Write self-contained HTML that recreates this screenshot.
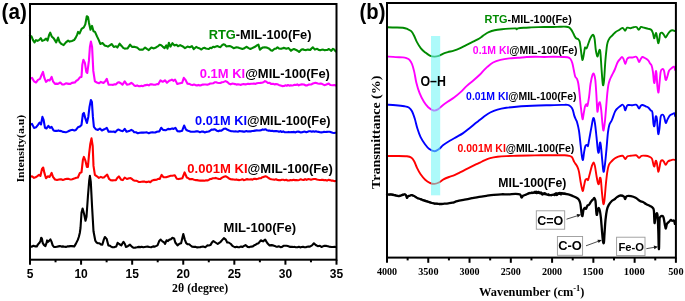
<!DOCTYPE html><html><head><meta charset="utf-8"><style>html,body{margin:0;padding:0;background:#fff;overflow:hidden}svg{display:block;will-change:transform}</style></head><body>
<svg width="685" height="301" viewBox="0 0 685 301">
<rect width="685" height="301" fill="#fff"/>
<polyline points="30.0,35.6 31.5,36.4 33.0,40.1 34.5,42.4 36.0,40.1 37.5,40.9 39.0,40.1 40.8,38.2 42.3,40.9 44.2,40.1 46.1,38.6 47.6,40.6 49.1,34.9 50.2,32.7 51.7,36.4 53.9,38.6 56.2,42.4 58.1,37.6 59.6,42.1 61.4,43.9 63.6,45.1 65.9,42.4 68.1,40.6 69.6,41.6 71.9,40.9 74.1,40.1 75.6,37.9 77.1,34.9 78.1,31.9 79.6,33.4 81.6,28.9 83.8,27.4 85.3,24.4 86.8,16.2 88.0,17.0 89.0,22.9 90.5,29.7 92.0,25.9 93.5,31.2 95.0,31.9 97.0,36.4 98.8,40.1 100.3,43.9 102.5,43.1 104.7,45.4 106.3,45.9 107.9,46.6 109.8,45.4 111.6,44.0 113.8,46.9 116.0,46.2 117.4,47.6 119.6,43.7 121.8,46.2 123.2,47.9 124.7,48.6 126.2,48.5 127.6,48.4 130.1,44.7 132.0,46.9 133.4,46.9 134.9,46.9 137.1,47.6 138.6,48.8 140.0,49.8 141.3,49.5 142.7,49.8 145.1,47.6 146.9,48.9 148.8,50.1 151.4,47.6 153.9,48.4 155.4,47.8 156.8,46.9 158.2,46.1 159.7,44.7 161.2,45.2 162.7,46.6 164.6,48.1 166.3,45.4 167.5,48.6 168.9,42.8 170.4,46.6 172.4,43.2 174.3,45.4 176.5,44.7 178.0,46.2 180.2,45.1 182.4,46.2 185.0,48.1 187.5,46.6 189.7,47.2 191.9,46.2 193.8,49.1 196.2,46.9 198.4,48.1 199.9,48.6 201.4,49.5 202.9,48.2 204.4,47.8 205.9,48.5 207.3,48.8 208.8,49.0 210.2,47.8 211.7,48.1 213.1,46.8 214.6,47.1 216.0,46.5 217.5,46.1 218.9,46.8 220.4,47.2 221.9,45.4 223.4,44.3 224.9,44.8 226.3,46.4 227.8,46.3 229.2,46.1 230.7,46.3 232.1,47.2 233.6,48.2 235.1,47.7 236.5,47.2 238.0,47.5 239.4,48.0 240.9,48.4 242.3,49.0 243.8,48.6 245.2,47.6 246.7,46.8 248.6,48.1 250.4,49.0 252.2,48.1 254.0,47.2 255.5,46.5 256.9,45.4 258.4,44.6 259.9,49.7 261.4,48.4 262.8,47.5 264.7,47.3 267.0,47.6 269.3,48.8 270.8,50.3 272.3,50.8 274.6,48.8 276.1,48.6 277.5,47.3 278.9,48.4 280.4,48.8 281.9,48.6 283.4,47.9 284.9,48.1 286.3,48.8 288.6,48.1 291.0,50.8 292.4,49.6 293.9,49.0 296.2,50.0 297.6,50.7 299.1,51.9 301.5,49.6 302.9,49.3 304.4,50.0 306.1,50.1 307.9,49.6 310.2,50.0 311.5,48.5 312.8,47.3 314.9,49.6 317.2,48.8 318.7,49.9 320.2,50.2 321.6,49.8 323.1,49.6 324.6,50.3 326.0,50.0 327.4,49.9 328.9,49.0 331.3,50.8 333.0,48.8 334.3,49.6 335.6,51.4" fill="none" stroke="#008a00" stroke-width="2.1" stroke-linejoin="round" stroke-linecap="round"/>
<polyline points="30.0,78.5 32.0,77.9 34.0,81.3 36.0,82.5 38.0,79.9 40.0,78.9 41.6,74.9 43.0,71.9 44.4,77.9 46.0,81.9 48.0,79.9 49.6,80.5 51.6,76.9 53.0,81.3 55.0,83.9 56.5,83.6 58.0,83.9 60.3,82.5 62.3,84.5 64.1,84.4 65.9,83.3 67.4,83.6 68.9,83.9 70.4,83.9 71.9,82.9 73.4,82.6 74.9,82.5 76.4,80.7 77.9,79.9 79.9,77.3 81.5,76.9 82.3,64.9 83.4,59.7 84.9,62.9 86.3,71.9 87.3,72.9 88.9,60.9 89.9,47.0 90.9,41.6 92.1,47.0 93.3,70.9 94.9,81.3 96.9,82.5 98.9,83.3 100.9,81.9 103.5,82.9 105.5,80.9 106.8,78.9 108.6,84.7 110.1,84.8 111.6,84.7 113.1,84.9 114.5,84.2 116.0,84.4 117.5,82.8 118.9,82.2 120.8,83.2 122.5,84.7 124.7,81.4 126.9,84.7 129.1,84.3 131.3,82.8 132.8,83.9 134.2,85.4 135.6,85.9 137.1,85.4 138.6,86.1 140.0,86.2 141.5,85.8 143.0,86.2 144.4,85.4 145.9,85.1 147.4,84.8 148.8,85.4 150.2,84.4 151.7,84.3 153.6,84.8 155.4,84.7 156.9,84.1 158.3,84.3 160.5,80.3 162.7,81.8 164.9,80.3 167.0,82.8 169.2,80.8 170.6,80.3 171.9,79.6 173.6,80.8 175.1,79.6 177.3,84.0 178.8,83.5 180.2,83.2 182.1,82.8 183.8,77.8 185.3,79.6 187.5,83.7 189.3,83.9 191.1,84.7 192.6,85.1 194.0,84.6 195.5,85.1 197.0,85.4 198.4,84.9 199.9,85.4 201.4,85.1 202.9,84.6 204.3,84.5 205.8,84.5 207.3,84.8 208.8,84.3 210.2,83.5 211.7,83.5 213.1,83.3 214.6,82.3 216.1,82.2 217.5,82.7 219.0,83.0 220.4,83.0 221.9,82.3 223.7,81.9 225.5,81.1 227.3,82.0 229.2,83.8 230.6,84.4 232.1,83.6 233.6,83.8 235.0,84.1 236.5,84.6 237.9,84.3 239.4,84.5 240.9,84.9 242.3,84.2 243.8,84.0 245.2,84.4 246.7,84.1 248.2,83.7 249.6,84.1 251.1,83.7 252.6,83.8 254.0,83.5 255.5,83.9 256.9,83.2 258.4,83.0 260.2,82.9 262.0,82.6 263.5,82.3 265.0,81.1 266.4,81.7 267.9,83.0 269.6,82.9 271.3,84.0 273.0,83.8 274.4,84.4 275.9,84.1 277.4,84.3 278.8,84.9 280.5,85.5 282.3,86.1 284.0,86.0 285.3,85.3 286.7,85.8 288.0,85.0 289.3,85.6 290.7,85.4 292.0,85.5 293.3,85.2 294.7,84.7 296.0,85.0 297.3,84.4 298.7,85.4 300.0,84.8 301.9,84.4 303.9,84.5 305.9,85.5 307.2,85.4 308.6,84.6 309.9,84.5 311.4,84.4 312.9,83.5 315.4,82.8 317.9,83.5 319.2,83.7 320.6,83.5 321.9,83.8 324.4,85.2 326.4,84.5 328.7,83.5 330.3,85.0 332.8,85.2 334.3,85.0 335.8,85.5" fill="none" stroke="#ff00ff" stroke-width="2.1" stroke-linejoin="round" stroke-linecap="round"/>
<polyline points="30.0,124.9 32.0,123.9 34.0,127.9 36.0,127.3 38.0,124.9 39.6,122.5 41.0,124.5 42.4,116.9 43.6,119.9 45.0,127.9 46.4,128.5 48.4,125.9 50.0,127.9 51.6,126.9 53.6,130.5 55.2,130.9 56.9,130.9 58.4,130.4 59.9,130.9 61.4,131.1 62.9,131.9 64.2,132.0 65.6,132.3 66.9,131.9 68.4,131.3 69.9,130.5 71.4,130.0 72.9,129.9 74.4,130.4 75.9,129.9 77.9,127.3 79.9,126.5 81.5,124.9 82.9,113.9 83.9,112.9 85.5,118.9 86.9,122.9 88.3,116.9 89.5,106.9 90.9,100.0 91.9,102.0 92.9,116.9 93.9,126.9 95.9,129.3 97.9,129.9 99.9,128.5 101.9,130.5 104.3,129.3 106.8,127.9 108.6,131.8 110.4,131.5 112.3,131.8 113.8,131.5 115.2,132.2 116.7,130.6 118.1,129.6 119.6,130.1 121.1,130.8 122.8,131.1 124.7,128.9 126.6,131.8 129.1,131.1 131.3,129.9 132.8,130.6 134.2,132.2 136.0,132.3 137.8,133.2 139.7,132.7 141.5,132.5 143.3,132.6 145.1,132.5 146.9,132.4 148.8,133.2 150.6,132.5 152.4,132.2 153.9,132.5 155.3,132.5 156.8,131.8 159.3,131.4 161.2,127.8 163.1,129.9 165.6,130.3 168.1,128.9 170.0,129.3 172.2,128.4 173.6,128.9 175.4,127.8 177.3,131.1 179.7,131.4 182.1,130.8 184.1,125.5 186.0,129.6 187.4,130.5 188.9,131.1 190.8,131.7 192.6,131.8 194.4,131.7 196.2,131.4 198.1,131.4 199.9,132.2 201.4,131.6 203.0,131.5 204.6,132.4 206.1,131.9 207.5,131.7 208.8,131.5 210.2,130.6 211.6,129.6 212.9,129.8 214.3,129.2 215.7,129.8 217.0,130.8 218.4,131.2 219.8,130.5 221.1,130.8 222.5,129.8 224.1,128.7 225.6,128.6 227.1,129.5 228.6,130.2 230.0,130.8 231.3,131.3 232.7,131.2 234.1,131.5 235.4,131.4 236.8,131.5 238.2,131.7 239.5,131.0 240.9,131.2 242.3,131.4 243.6,131.6 245.0,131.6 246.4,131.1 247.7,131.5 249.1,131.2 250.6,131.4 252.1,131.0 253.7,130.9 255.2,130.6 256.7,130.4 258.2,130.5 259.8,130.4 261.3,130.2 262.7,129.4 264.0,129.7 265.4,129.2 266.8,130.2 268.1,130.6 269.5,130.6 270.9,131.0 272.2,130.7 273.6,131.2 275.0,131.1 276.3,131.0 277.7,131.2 279.1,131.8 280.4,131.1 281.8,132.0 283.2,131.4 284.5,132.2 285.9,132.3 287.3,132.2 288.6,131.9 290.0,132.3 291.4,132.0 292.7,132.1 294.1,131.9 295.5,132.4 296.8,131.8 298.1,131.6 299.5,131.9 300.9,132.4 302.2,132.3 303.6,131.8 304.9,131.6 306.3,132.2 307.7,131.7 309.0,131.3 310.4,131.2 311.8,131.7 313.1,131.2 314.5,131.7 315.9,131.3 317.2,131.7 318.6,131.9 320.0,132.2 321.3,132.4 322.7,132.3 324.1,131.8 325.4,132.0 326.8,131.9 328.2,131.8 329.7,131.8 331.1,132.3 332.6,132.8 334.1,133.0 335.5,132.7" fill="none" stroke="#0000ff" stroke-width="2.1" stroke-linejoin="round" stroke-linecap="round"/>
<polyline points="30.0,176.9 32.0,176.3 34.0,177.9 35.5,177.3 37.0,176.3 39.0,174.9 40.4,175.9 42.0,168.9 43.2,167.5 44.4,172.9 46.0,178.3 48.0,176.3 49.6,176.9 51.6,172.9 53.0,176.9 55.0,179.5 57.0,180.0 58.9,179.5 60.2,179.4 61.6,179.4 62.9,179.9 64.2,179.5 65.6,179.0 66.9,178.9 68.2,178.8 69.6,179.2 70.9,179.5 72.2,179.2 73.6,178.7 74.9,178.3 76.4,177.7 77.9,177.5 79.9,172.9 81.5,172.3 82.9,159.9 83.9,156.9 85.5,160.9 86.9,166.9 87.9,166.9 89.1,153.9 90.3,144.0 91.5,138.4 92.7,146.0 93.5,165.9 94.9,174.9 96.9,176.3 98.9,177.9 100.9,176.9 102.4,177.6 103.9,177.5 105.5,176.0 107.2,174.6 109.1,179.0 110.7,180.2 112.3,180.4 114.1,180.2 115.9,180.1 117.4,177.8 118.9,176.4 121.1,179.7 122.8,180.1 124.7,177.5 126.9,179.0 129.1,178.2 130.6,178.1 132.0,179.0 133.4,180.3 134.9,180.7 136.8,180.8 138.6,181.9 140.1,182.0 141.5,181.8 143.0,181.6 144.4,181.5 145.9,182.1 147.3,181.9 148.8,181.5 150.3,182.2 151.8,180.7 153.2,180.1 155.0,179.9 156.8,179.7 158.2,178.8 159.7,179.0 161.6,174.9 163.4,177.2 166.0,177.2 168.5,176.4 170.7,175.8 172.4,175.8 174.8,175.3 176.8,178.7 178.5,179.1 180.2,178.7 182.4,178.2 184.6,172.4 186.8,177.5 188.2,178.1 189.7,179.3 191.2,179.0 192.6,179.1 194.1,179.7 195.5,180.1 197.0,180.1 198.4,180.4 200.2,180.6 202.0,180.5 203.4,180.6 204.7,180.7 206.1,180.3 207.5,180.5 208.8,179.8 210.2,179.0 211.6,178.9 212.9,178.3 214.3,178.3 215.8,177.9 217.4,178.6 218.9,179.0 220.4,178.9 222.1,177.6 223.9,176.8 225.6,176.2 227.3,177.1 229.0,178.5 230.7,179.3 232.2,179.4 233.6,179.5 235.1,179.8 236.5,179.4 238.0,179.9 239.4,180.1 240.9,179.7 242.4,179.2 243.8,180.1 245.3,179.8 246.7,179.1 248.2,179.4 249.6,179.5 251.1,179.3 252.5,179.6 253.8,178.8 255.2,178.9 256.6,179.1 257.9,178.8 259.3,178.3 260.8,178.3 262.4,177.2 263.9,176.9 265.4,176.2 266.9,176.7 268.5,178.0 270.1,178.9 271.6,179.3 273.1,179.5 274.5,179.7 276.0,179.2 277.4,180.0 278.9,180.1 280.3,180.2 281.8,179.7 283.3,179.8 284.7,180.2 286.2,179.8 287.6,180.5 289.1,180.5 290.5,180.0 292.0,180.3 293.5,179.8 294.9,180.1 296.4,180.1 297.8,180.3 299.3,179.9 300.7,179.3 302.2,179.7 303.7,180.0 305.1,179.1 306.6,179.9 308.1,179.1 309.6,179.2 311.0,179.7 312.5,179.3 314.0,179.0 315.4,179.0 316.9,179.5 318.3,179.8 319.8,180.0 321.2,179.9 322.7,179.7 324.1,180.3 325.5,180.0 327.0,180.6 328.4,179.8 329.8,180.1 331.2,180.6 332.7,180.5 334.1,181.1 335.5,181.0" fill="none" stroke="#ff0000" stroke-width="2.1" stroke-linejoin="round" stroke-linecap="round"/>
<polyline points="30.0,246.4 31.5,246.7 33.5,245.7 35.0,246.4 36.8,246.4 38.0,244.4 39.5,242.7 40.5,240.9 41.2,237.7 42.0,238.9 42.7,242.9 43.9,244.9 45.4,246.1 46.4,243.4 47.1,240.4 47.9,241.9 49.1,240.9 50.4,239.4 51.4,241.4 52.7,245.4 53.9,246.9 55.4,247.0 56.9,246.7 58.4,246.4 59.9,246.1 61.4,246.6 62.9,246.4 64.4,246.7 65.9,246.9 67.3,246.4 68.8,246.4 70.3,246.1 71.8,246.1 74.3,246.4 75.8,243.9 77.8,239.9 78.8,237.0 79.8,233.0 80.5,228.0 81.5,212.7 82.6,208.5 84.1,214.0 85.5,220.7 86.5,216.7 87.9,196.7 89.2,180.7 89.9,175.8 90.8,182.0 92.1,207.3 93.5,231.3 95.3,240.7 96.5,242.5 98.0,243.2 99.4,243.2 100.8,244.4 102.3,244.7 103.8,239.6 104.9,237.0 106.7,238.9 108.4,245.4 109.8,245.7 111.1,246.6 112.5,247.3 114.0,247.2 116.2,246.6 117.6,242.8 119.1,244.0 121.3,245.4 123.5,241.8 124.9,244.0 125.9,246.9 127.8,246.2 130.0,244.7 132.2,246.9 133.6,247.8 135.1,247.6 136.9,247.3 138.8,246.9 140.3,247.1 141.7,246.8 143.2,247.2 144.7,247.0 146.1,246.8 147.6,246.6 149.4,247.0 151.2,247.2 153.1,246.4 154.9,246.6 157.5,245.4 159.2,241.1 160.7,239.6 162.4,241.4 163.9,242.2 165.1,244.0 166.5,240.3 168.0,241.1 169.5,239.6 170.9,239.3 172.4,237.8 174.1,238.4 175.3,242.5 177.5,245.4 179.4,243.7 181.1,243.2 183.3,234.1 184.8,239.6 186.2,243.2 187.7,244.3 189.2,244.3 190.6,245.5 192.1,246.6 194.4,246.9 195.9,246.9 197.3,247.4 198.8,247.2 200.2,247.1 201.7,246.8 203.1,246.6 205.3,247.2 207.5,245.4 208.9,245.5 210.4,245.1 211.9,242.6 213.4,241.1 215.5,242.5 217.7,244.0 219.2,242.9 220.7,241.8 222.3,239.9 223.9,238.1 225.8,239.6 227.2,242.5 228.7,242.5 230.9,244.0 232.4,245.8 233.8,246.6 235.3,247.3 236.7,246.7 238.2,247.2 239.7,247.1 241.1,246.6 242.6,246.9 244.1,245.9 245.5,245.1 247.7,246.9 249.5,247.1 251.3,246.6 252.8,246.4 254.2,245.3 255.7,244.7 257.1,243.7 258.6,243.2 260.8,240.3 263.0,241.4 265.2,239.6 267.4,243.2 269.6,245.4 271.4,245.1 273.2,245.4 274.7,245.9 276.1,246.7 277.6,246.6 279.1,246.3 280.5,247.1 282.0,246.9 283.5,245.8 285.0,245.8 286.4,245.7 287.8,246.0 289.2,246.6 290.6,246.9 291.9,246.7 293.3,247.0 294.7,246.9 296.1,247.3 297.5,247.3 298.9,246.8 300.2,247.4 301.6,247.0 303.0,246.7 304.4,247.2 305.8,247.3 307.2,246.8 308.5,246.5 309.9,246.6 312.0,245.4 313.9,243.3 315.7,245.0 317.8,246.2 319.9,245.8 321.5,247.0 324.0,245.9 326.5,245.9 329.0,246.6 331.5,247.0 333.0,247.0 334.5,246.9 336.0,247.0" fill="none" stroke="#000000" stroke-width="2.1" stroke-linejoin="round" stroke-linecap="round"/>
<rect x="30" y="4" width="306.5" height="255.7" fill="none" stroke="#000" stroke-width="2"/>
<line x1="30.00" y1="259.7" x2="30.00" y2="264.70" stroke="#000" stroke-width="2"/>
<line x1="55.54" y1="259.7" x2="55.54" y2="262.30" stroke="#000" stroke-width="2"/>
<line x1="81.08" y1="259.7" x2="81.08" y2="264.70" stroke="#000" stroke-width="2"/>
<line x1="106.62" y1="259.7" x2="106.62" y2="262.30" stroke="#000" stroke-width="2"/>
<line x1="132.17" y1="259.7" x2="132.17" y2="264.70" stroke="#000" stroke-width="2"/>
<line x1="157.71" y1="259.7" x2="157.71" y2="262.30" stroke="#000" stroke-width="2"/>
<line x1="183.25" y1="259.7" x2="183.25" y2="264.70" stroke="#000" stroke-width="2"/>
<line x1="208.79" y1="259.7" x2="208.79" y2="262.30" stroke="#000" stroke-width="2"/>
<line x1="234.33" y1="259.7" x2="234.33" y2="264.70" stroke="#000" stroke-width="2"/>
<line x1="259.88" y1="259.7" x2="259.88" y2="262.30" stroke="#000" stroke-width="2"/>
<line x1="285.42" y1="259.7" x2="285.42" y2="264.70" stroke="#000" stroke-width="2"/>
<line x1="310.96" y1="259.7" x2="310.96" y2="262.30" stroke="#000" stroke-width="2"/>
<line x1="336.50" y1="259.7" x2="336.50" y2="264.70" stroke="#000" stroke-width="2"/>
<text x="30.00" y="277.6" font-family="Liberation Sans, sans-serif" font-weight="bold" font-size="12" text-anchor="middle">5</text>
<text x="81.08" y="277.6" font-family="Liberation Sans, sans-serif" font-weight="bold" font-size="12" text-anchor="middle">10</text>
<text x="132.17" y="277.6" font-family="Liberation Sans, sans-serif" font-weight="bold" font-size="12" text-anchor="middle">15</text>
<text x="183.25" y="277.6" font-family="Liberation Sans, sans-serif" font-weight="bold" font-size="12" text-anchor="middle">20</text>
<text x="234.33" y="277.6" font-family="Liberation Sans, sans-serif" font-weight="bold" font-size="12" text-anchor="middle">25</text>
<text x="285.42" y="277.6" font-family="Liberation Sans, sans-serif" font-weight="bold" font-size="12" text-anchor="middle">30</text>
<text x="336.50" y="277.6" font-family="Liberation Sans, sans-serif" font-weight="bold" font-size="12" text-anchor="middle">35</text>
<text transform="translate(23.7,148.65) rotate(-90)" font-family="Liberation Serif, serif" font-weight="bold" font-size="11.2" text-anchor="middle" textLength="67.8" lengthAdjust="spacingAndGlyphs">Intensity(a.u)</text>
<path d="M387.20,27.20 C388.33,27.25 391.38,27.40 394.00,27.50 C396.62,27.60 400.67,27.55 402.90,27.80 C405.13,28.05 406.02,28.43 407.40,29.00 C408.78,29.57 410.08,30.08 411.20,31.20 C412.32,32.32 413.12,33.83 414.10,35.70 C415.08,37.57 415.97,40.28 417.10,42.40 C418.23,44.52 419.52,46.70 420.90,48.40 C422.28,50.10 423.92,51.40 425.40,52.60 C426.88,53.80 428.32,54.93 429.80,55.60 C431.28,56.27 432.80,56.55 434.30,56.60 C435.80,56.65 437.30,56.40 438.80,55.90 C440.30,55.40 441.80,54.23 443.30,53.60 C444.80,52.97 446.05,52.60 447.80,52.10 C449.55,51.60 451.82,51.22 453.80,50.60 C455.78,49.98 457.72,49.27 459.70,48.40 C461.68,47.53 463.70,46.40 465.70,45.40 C467.70,44.40 469.70,43.40 471.70,42.40 C473.70,41.40 475.95,40.40 477.70,39.40 C479.45,38.40 481.08,37.18 482.20,36.40 C483.32,35.62 483.30,35.40 484.40,34.70 C485.50,34.00 487.10,32.93 488.80,32.20 C490.50,31.47 492.42,30.80 494.60,30.30 C496.78,29.80 499.47,29.48 501.90,29.20 C504.33,28.92 506.88,28.73 509.20,28.60 C511.52,28.47 514.58,28.30 515.80,28.40 C517.02,28.50 516.13,29.20 516.50,29.20 C516.87,29.20 516.78,28.63 518.00,28.40 C519.22,28.17 521.62,27.97 523.80,27.80 C525.98,27.63 528.67,27.52 531.10,27.40 C533.53,27.28 535.97,27.17 538.40,27.10 C540.83,27.03 543.27,27.02 545.70,27.00 C548.13,26.98 550.57,27.05 553.00,27.00 C555.43,26.95 558.12,26.75 560.30,26.70 C562.48,26.65 564.65,26.58 566.10,26.70 C567.55,26.82 568.15,26.92 569.00,27.40 C569.85,27.88 570.47,28.58 571.20,29.60 C571.93,30.62 572.80,32.35 573.40,33.50 C574.00,34.65 574.32,35.67 574.80,36.50 C575.28,37.33 575.73,38.05 576.30,38.50 C576.87,38.95 577.63,38.67 578.20,39.20 C578.77,39.73 579.27,40.03 579.70,41.70 C580.13,43.37 580.42,46.45 580.80,49.20 C581.18,51.95 581.68,56.45 582.00,58.20 C582.32,59.95 582.40,60.33 582.70,59.70 C583.00,59.07 583.42,56.40 583.80,54.40 C584.18,52.40 584.55,48.70 585.00,47.70 C585.45,46.70 586.00,48.90 586.50,48.40 C587.00,47.90 587.38,46.32 588.00,44.70 C588.62,43.08 589.45,40.32 590.20,38.70 C590.95,37.08 591.92,35.53 592.50,35.00 C593.08,34.47 593.33,34.75 593.70,35.50 C594.07,36.25 594.35,37.08 594.70,39.50 C595.05,41.92 595.35,47.15 595.80,50.00 C596.25,52.85 596.85,56.47 597.40,56.60 C597.95,56.73 598.62,51.63 599.10,50.80 C599.58,49.97 599.88,48.42 600.30,51.60 C600.72,54.78 601.17,64.37 601.60,69.90 C602.03,75.43 602.48,83.15 602.90,84.80 C603.32,86.45 603.70,83.67 604.10,79.80 C604.50,75.93 604.88,66.85 605.30,61.60 C605.72,56.35 606.22,51.48 606.60,48.30 C606.98,45.12 607.08,44.22 607.60,42.50 C608.12,40.78 608.85,39.25 609.70,38.00 C610.55,36.75 611.70,36.00 612.70,35.00 C613.70,34.00 614.70,32.80 615.70,32.00 C616.70,31.20 617.83,30.75 618.70,30.20 C619.57,29.65 620.27,29.07 620.90,28.70 C621.53,28.33 622.03,27.98 622.50,28.00 C622.97,28.02 623.25,28.35 623.70,28.80 C624.15,29.25 624.62,30.88 625.20,30.70 C625.78,30.52 626.32,28.12 627.20,27.70 C628.08,27.28 629.45,28.27 630.50,28.20 C631.55,28.13 632.50,27.50 633.50,27.30 C634.50,27.10 635.63,26.60 636.50,27.00 C637.37,27.40 637.95,29.70 638.70,29.70 C639.45,29.70 640.12,27.33 641.00,27.00 C641.88,26.67 642.77,27.40 644.00,27.70 C645.23,28.00 647.17,28.42 648.40,28.80 C649.63,29.18 650.65,29.30 651.40,30.00 C652.15,30.70 652.45,31.63 652.90,33.00 C653.35,34.37 653.72,37.83 654.10,38.20 C654.48,38.57 654.85,36.07 655.20,35.20 C655.55,34.33 655.88,32.62 656.20,33.00 C656.52,33.38 656.77,35.82 657.10,37.50 C657.43,39.18 657.85,42.62 658.20,43.10 C658.55,43.58 658.88,41.97 659.20,40.40 C659.52,38.83 659.65,34.98 660.10,33.70 C660.55,32.42 661.30,32.57 661.90,32.70 C662.50,32.83 663.07,33.70 663.70,34.50 C664.33,35.30 665.05,37.50 665.70,37.50 C666.35,37.50 666.87,35.55 667.60,34.50 C668.33,33.45 669.30,31.90 670.10,31.20 C670.90,30.50 671.58,30.30 672.40,30.30 C673.22,30.30 674.57,31.05 675.00,31.20" fill="none" stroke="#008a00" stroke-width="1.9" stroke-linejoin="round" stroke-linecap="round"/>
<path d="M387.20,56.50 C388.63,56.60 393.18,56.95 395.80,57.10 C398.42,57.25 401.12,57.22 402.90,57.40 C404.68,57.58 405.40,57.80 406.50,58.20 C407.60,58.60 408.58,58.83 409.50,59.80 C410.42,60.77 411.22,62.03 412.00,64.00 C412.78,65.97 413.48,68.53 414.20,71.60 C414.92,74.67 415.40,78.80 416.30,82.40 C417.20,86.00 418.33,89.97 419.60,93.20 C420.87,96.43 422.47,99.47 423.90,101.80 C425.33,104.13 426.58,105.75 428.20,107.20 C429.82,108.65 431.98,110.13 433.60,110.50 C435.22,110.87 436.47,110.20 437.90,109.40 C439.33,108.60 440.58,106.97 442.20,105.70 C443.82,104.43 445.62,103.17 447.60,101.80 C449.58,100.43 451.93,99.12 454.10,97.50 C456.27,95.88 458.43,94.08 460.60,92.10 C462.77,90.12 464.93,87.58 467.10,85.60 C469.27,83.62 471.45,82.05 473.60,80.20 C475.75,78.35 478.45,75.98 480.00,74.50 C481.55,73.02 481.68,72.57 482.90,71.30 C484.12,70.03 485.60,68.37 487.30,66.90 C489.00,65.43 490.92,63.67 493.10,62.50 C495.28,61.33 497.72,60.58 500.40,59.90 C503.08,59.22 506.27,58.75 509.20,58.40 C512.13,58.05 515.08,58.03 518.00,57.80 C520.92,57.57 523.78,57.18 526.70,57.00 C529.62,56.82 532.58,56.70 535.50,56.70 C538.42,56.70 541.28,57.00 544.20,57.00 C547.12,57.00 550.07,56.70 553.00,56.70 C555.93,56.70 559.37,56.90 561.80,57.00 C564.23,57.10 566.15,56.97 567.60,57.30 C569.05,57.63 569.72,58.05 570.50,59.00 C571.28,59.95 571.75,61.17 572.30,63.00 C572.85,64.83 573.32,67.75 573.80,70.00 C574.28,72.25 574.67,75.02 575.20,76.50 C575.73,77.98 576.48,77.73 577.00,78.90 C577.52,80.07 577.88,81.15 578.30,83.50 C578.72,85.85 579.08,89.15 579.50,93.00 C579.92,96.85 580.30,102.27 580.80,106.60 C581.30,110.93 582.03,117.77 582.50,119.00 C582.97,120.23 583.18,116.07 583.60,114.00 C584.02,111.93 584.55,108.25 585.00,106.60 C585.45,104.95 585.90,104.23 586.30,104.10 C586.70,103.97 586.93,107.05 587.40,105.80 C587.87,104.55 588.58,100.23 589.10,96.60 C589.62,92.97 589.93,87.62 590.50,84.00 C591.07,80.38 591.93,76.58 592.50,74.90 C593.07,73.22 593.43,73.07 593.90,73.90 C594.37,74.73 594.88,76.38 595.30,79.90 C595.72,83.42 596.05,89.72 596.40,95.00 C596.75,100.28 597.05,109.95 597.40,111.60 C597.75,113.25 598.08,106.43 598.50,104.90 C598.92,103.37 599.45,101.57 599.90,102.40 C600.35,103.23 600.78,106.43 601.20,109.90 C601.62,113.37 602.02,119.75 602.40,123.20 C602.78,126.65 603.08,130.88 603.50,130.60 C603.92,130.32 604.45,125.50 604.90,121.50 C605.35,117.50 605.80,111.30 606.20,106.60 C606.60,101.90 606.93,96.92 607.30,93.30 C607.67,89.68 607.98,87.13 608.40,84.90 C608.82,82.67 609.23,81.47 609.80,79.90 C610.37,78.33 610.97,77.23 611.80,75.50 C612.63,73.77 613.85,71.67 614.80,69.50 C615.75,67.33 616.63,64.23 617.50,62.50 C618.37,60.77 619.25,60.02 620.00,59.10 C620.75,58.18 621.40,57.00 622.00,57.00 C622.60,57.00 623.05,57.92 623.60,59.10 C624.15,60.28 624.73,64.10 625.30,64.10 C625.87,64.10 626.37,60.20 627.00,59.10 C627.63,58.00 628.20,57.77 629.10,57.50 C630.00,57.23 631.28,57.65 632.40,57.50 C633.52,57.35 634.97,56.47 635.80,56.60 C636.63,56.73 636.85,57.40 637.40,58.30 C637.95,59.20 638.55,61.87 639.10,62.00 C639.65,62.13 640.15,59.93 640.70,59.10 C641.25,58.27 641.70,57.18 642.40,57.00 C643.10,56.82 643.93,57.45 644.90,58.00 C645.87,58.55 647.37,59.42 648.20,60.30 C649.03,61.18 649.35,62.47 649.90,63.30 C650.45,64.13 651.00,63.92 651.50,65.30 C652.00,66.68 652.48,68.75 652.90,71.60 C653.32,74.45 653.67,80.88 654.00,82.40 C654.33,83.92 654.62,82.50 654.90,80.70 C655.18,78.90 655.43,72.83 655.70,71.60 C655.97,70.37 656.22,70.82 656.50,73.30 C656.78,75.78 657.07,83.32 657.40,86.50 C657.73,89.68 658.15,92.95 658.50,92.40 C658.85,91.85 659.13,86.67 659.50,83.20 C659.87,79.73 660.23,73.95 660.70,71.60 C661.17,69.25 661.75,69.23 662.30,69.10 C662.85,68.97 663.43,69.00 664.00,70.80 C664.57,72.60 665.15,78.93 665.70,79.90 C666.25,80.87 666.75,78.12 667.30,76.60 C667.85,75.08 668.30,72.18 669.00,70.80 C669.70,69.42 670.67,69.00 671.50,68.30 C672.33,67.60 673.40,66.32 674.00,66.60 C674.60,66.88 674.92,69.43 675.10,70.00" fill="none" stroke="#ff00ff" stroke-width="1.9" stroke-linejoin="round" stroke-linecap="round"/>
<path d="M387.20,104.70 C388.63,104.78 392.93,104.95 395.80,105.20 C398.67,105.45 402.23,105.82 404.40,106.20 C406.57,106.58 407.53,106.67 408.80,107.50 C410.07,108.33 411.00,109.32 412.00,111.20 C413.00,113.08 413.90,115.92 414.80,118.80 C415.70,121.68 416.43,125.45 417.40,128.50 C418.37,131.55 419.33,134.48 420.60,137.10 C421.87,139.72 423.55,142.22 425.00,144.20 C426.45,146.18 427.68,147.83 429.30,149.00 C430.92,150.17 433.08,151.20 434.70,151.20 C436.32,151.20 437.57,150.02 439.00,149.00 C440.43,147.98 441.50,146.47 443.30,145.10 C445.10,143.73 447.63,142.13 449.80,140.80 C451.97,139.47 454.13,138.33 456.30,137.10 C458.47,135.87 460.65,134.83 462.80,133.40 C464.95,131.97 467.05,130.22 469.20,128.50 C471.35,126.78 473.90,124.55 475.70,123.10 C477.50,121.65 478.55,120.95 480.00,119.80 C481.45,118.65 482.70,117.42 484.40,116.20 C486.10,114.98 488.02,113.60 490.20,112.50 C492.38,111.40 494.82,110.38 497.50,109.60 C500.18,108.82 503.13,108.28 506.30,107.80 C509.47,107.32 513.10,107.00 516.50,106.70 C519.90,106.40 523.05,106.20 526.70,106.00 C530.35,105.80 534.50,105.63 538.40,105.50 C542.30,105.37 546.20,105.30 550.10,105.20 C554.00,105.10 558.88,104.95 561.80,104.90 C564.72,104.85 566.15,104.65 567.60,104.90 C569.05,105.15 569.65,105.62 570.50,106.40 C571.35,107.18 572.08,108.10 572.70,109.60 C573.32,111.10 573.72,113.83 574.20,115.40 C574.68,116.97 575.13,117.90 575.60,119.00 C576.07,120.10 576.43,120.02 577.00,122.00 C577.57,123.98 578.40,127.08 579.00,130.90 C579.60,134.72 580.10,140.58 580.60,144.90 C581.10,149.22 581.60,154.32 582.00,156.80 C582.40,159.28 582.67,160.47 583.00,159.80 C583.33,159.13 583.60,155.12 584.00,152.80 C584.40,150.48 584.90,147.22 585.40,145.90 C585.90,144.58 586.57,144.90 587.00,144.90 C587.43,144.90 587.62,146.90 588.00,145.90 C588.38,144.90 588.75,141.90 589.30,138.90 C589.85,135.90 590.63,131.38 591.30,127.90 C591.97,124.42 592.70,118.82 593.30,118.00 C593.90,117.18 594.37,119.85 594.90,123.00 C595.43,126.15 596.00,132.25 596.50,136.90 C597.00,141.55 597.50,148.40 597.90,150.90 C598.30,153.40 598.57,153.23 598.90,151.90 C599.23,150.57 599.57,143.90 599.90,142.90 C600.23,141.90 600.50,142.92 600.90,145.90 C601.30,148.88 601.87,156.48 602.30,160.80 C602.73,165.12 603.07,171.13 603.50,171.80 C603.93,172.47 604.40,168.62 604.90,164.80 C605.40,160.98 606.00,154.22 606.50,148.90 C607.00,143.58 607.43,136.88 607.90,132.90 C608.37,128.92 608.63,127.15 609.30,125.00 C609.97,122.85 610.95,122.23 611.90,120.00 C612.85,117.77 614.07,113.55 615.00,111.60 C615.93,109.65 616.67,109.18 617.50,108.30 C618.33,107.42 619.17,106.92 620.00,106.30 C620.83,105.68 621.82,104.55 622.50,104.60 C623.18,104.65 623.63,105.65 624.10,106.60 C624.57,107.55 624.82,110.43 625.30,110.30 C625.78,110.17 626.37,106.68 627.00,105.80 C627.63,104.92 628.20,105.08 629.10,105.00 C630.00,104.92 631.28,105.37 632.40,105.30 C633.52,105.23 634.97,104.52 635.80,104.60 C636.63,104.68 636.85,105.13 637.40,105.80 C637.95,106.47 638.55,108.60 639.10,108.60 C639.65,108.60 640.15,106.40 640.70,105.80 C641.25,105.20 641.57,104.92 642.40,105.00 C643.23,105.08 644.73,105.88 645.70,106.30 C646.67,106.72 647.37,106.83 648.20,107.50 C649.03,108.17 650.00,109.48 650.70,110.30 C651.40,111.12 651.93,110.10 652.40,112.40 C652.87,114.70 653.15,121.88 653.50,124.10 C653.85,126.32 654.13,126.95 654.50,125.70 C654.87,124.45 655.30,117.70 655.70,116.60 C656.10,115.50 656.53,116.62 656.90,119.10 C657.27,121.58 657.63,129.02 657.90,131.50 C658.17,133.98 658.23,134.55 658.50,134.00 C658.77,133.45 659.13,131.10 659.50,128.20 C659.87,125.30 660.23,118.87 660.70,116.60 C661.17,114.33 661.75,114.65 662.30,114.60 C662.85,114.55 663.43,114.92 664.00,116.30 C664.57,117.68 665.15,122.30 665.70,122.90 C666.25,123.50 666.67,121.08 667.30,119.90 C667.93,118.72 668.67,116.77 669.50,115.80 C670.33,114.83 671.47,114.52 672.30,114.10 C673.13,113.68 674.03,112.98 674.50,113.30 C674.97,113.62 675.00,115.55 675.10,116.00" fill="none" stroke="#0000ff" stroke-width="1.9" stroke-linejoin="round" stroke-linecap="round"/>
<path d="M386.80,156.00 C388.33,156.00 392.65,155.95 396.00,156.00 C399.35,156.05 404.32,156.00 406.90,156.30 C409.48,156.60 410.27,156.93 411.50,157.80 C412.73,158.67 413.38,159.82 414.30,161.50 C415.22,163.18 415.95,165.77 417.00,167.90 C418.05,170.03 419.23,172.33 420.60,174.30 C421.97,176.27 423.67,178.28 425.20,179.70 C426.73,181.12 428.27,182.10 429.80,182.80 C431.33,183.50 432.88,183.95 434.40,183.90 C435.92,183.85 437.38,183.25 438.90,182.50 C440.42,181.75 441.82,180.32 443.50,179.40 C445.18,178.48 447.17,177.70 449.00,177.00 C450.83,176.30 452.67,175.97 454.50,175.20 C456.33,174.43 458.18,173.32 460.00,172.40 C461.82,171.48 463.58,170.62 465.40,169.70 C467.22,168.78 469.07,167.82 470.90,166.90 C472.73,165.98 474.88,164.92 476.40,164.20 C477.92,163.48 478.67,163.23 480.00,162.60 C481.33,161.97 482.70,161.13 484.40,160.40 C486.10,159.67 488.02,158.80 490.20,158.20 C492.38,157.60 494.82,157.15 497.50,156.80 C500.18,156.45 503.13,156.27 506.30,156.10 C509.47,155.93 512.85,155.90 516.50,155.80 C520.15,155.70 524.07,155.58 528.20,155.50 C532.33,155.42 537.17,155.33 541.30,155.30 C545.43,155.27 549.10,155.30 553.00,155.30 C556.90,155.30 562.03,155.22 564.70,155.30 C567.37,155.38 567.78,155.48 569.00,155.80 C570.22,156.12 571.13,156.18 572.00,157.20 C572.87,158.22 573.53,160.68 574.20,161.90 C574.87,163.12 575.47,163.67 576.00,164.50 C576.53,165.33 576.90,165.67 577.40,166.90 C577.90,168.13 578.47,169.40 579.00,171.90 C579.53,174.40 580.10,179.08 580.60,181.90 C581.10,184.72 581.60,187.32 582.00,188.80 C582.40,190.28 582.67,191.28 583.00,190.80 C583.33,190.32 583.60,187.72 584.00,185.90 C584.40,184.08 584.90,181.07 585.40,179.90 C585.90,178.73 586.55,178.90 587.00,178.90 C587.45,178.90 587.60,180.90 588.10,179.90 C588.60,178.90 589.37,175.23 590.00,172.90 C590.63,170.57 591.32,167.65 591.90,165.90 C592.48,164.15 593.00,162.40 593.50,162.40 C594.00,162.40 594.40,163.65 594.90,165.90 C595.40,168.15 596.00,173.07 596.50,175.90 C597.00,178.73 597.50,181.57 597.90,182.90 C598.30,184.23 598.57,184.73 598.90,183.90 C599.23,183.07 599.57,178.57 599.90,177.90 C600.23,177.23 600.57,177.58 600.90,179.90 C601.23,182.22 601.50,187.82 601.90,191.80 C602.30,195.78 602.87,202.47 603.30,203.80 C603.73,205.13 604.07,203.12 604.50,199.80 C604.93,196.48 605.43,188.55 605.90,183.90 C606.37,179.25 606.80,175.07 607.30,171.90 C607.80,168.73 608.13,166.72 608.90,164.90 C609.67,163.08 610.88,162.10 611.90,161.00 C612.92,159.90 613.93,159.03 615.00,158.30 C616.07,157.57 617.05,157.02 618.30,156.60 C619.55,156.18 621.53,155.67 622.50,155.80 C623.47,155.93 623.63,156.85 624.10,157.40 C624.57,157.95 624.73,159.28 625.30,159.10 C625.87,158.92 626.58,156.85 627.50,156.30 C628.42,155.75 629.42,155.97 630.80,155.80 C632.18,155.63 634.70,155.22 635.80,155.30 C636.90,155.38 636.85,155.87 637.40,156.30 C637.95,156.73 638.40,157.98 639.10,157.90 C639.80,157.82 640.50,156.15 641.60,155.80 C642.70,155.45 644.45,155.67 645.70,155.80 C646.95,155.93 648.07,156.13 649.10,156.60 C650.13,157.07 651.17,157.22 651.90,158.60 C652.63,159.98 653.07,163.63 653.50,164.90 C653.93,166.17 654.13,166.88 654.50,166.20 C654.87,165.52 655.30,161.28 655.70,160.80 C656.10,160.32 656.53,161.78 656.90,163.30 C657.27,164.82 657.63,168.52 657.90,169.90 C658.17,171.28 658.23,172.02 658.50,171.60 C658.77,171.18 659.13,169.12 659.50,167.40 C659.87,165.68 660.23,162.48 660.70,161.30 C661.17,160.12 661.75,160.20 662.30,160.30 C662.85,160.40 663.43,161.13 664.00,161.90 C664.57,162.67 665.07,164.95 665.70,164.90 C666.33,164.85 666.98,162.37 667.80,161.60 C668.62,160.83 669.72,160.63 670.60,160.30 C671.48,159.97 672.37,159.67 673.10,159.60 C673.83,159.53 674.68,159.85 675.00,159.90" fill="none" stroke="#ff0000" stroke-width="1.9" stroke-linejoin="round" stroke-linecap="round"/>
<path d="M387.00,194.80 C387.68,194.75 389.73,194.42 391.10,194.50 C392.47,194.58 394.00,195.03 395.20,195.30 C396.40,195.57 397.28,196.10 398.30,196.10 C399.32,196.10 400.28,195.60 401.30,195.30 C402.32,195.00 403.63,194.33 404.40,194.30 C405.17,194.27 405.47,194.50 405.90,195.10 C406.33,195.70 406.65,197.70 407.00,197.90 C407.35,198.10 407.58,196.65 408.00,196.30 C408.42,195.95 408.90,196.00 409.50,195.80 C410.10,195.60 410.92,195.10 411.60,195.10 C412.28,195.10 412.93,195.50 413.60,195.80 C414.27,196.10 414.92,196.50 415.60,196.90 C416.28,197.30 416.83,197.82 417.70,198.20 C418.57,198.58 419.78,198.83 420.80,199.20 C421.82,199.57 422.62,199.98 423.80,200.40 C424.98,200.82 426.53,201.27 427.90,201.70 C429.27,202.13 430.63,202.67 432.00,203.00 C433.37,203.33 434.73,203.53 436.10,203.70 C437.47,203.87 438.85,204.00 440.20,204.00 C441.55,204.00 442.85,203.82 444.20,203.70 C445.55,203.58 446.93,203.47 448.30,203.30 C449.67,203.13 450.90,203.05 452.40,202.70 C453.90,202.35 455.27,201.70 457.30,201.20 C459.33,200.70 462.17,200.20 464.60,199.70 C467.03,199.20 469.47,198.68 471.90,198.20 C474.33,197.72 476.77,197.20 479.20,196.80 C481.63,196.40 484.07,196.12 486.50,195.80 C488.93,195.48 491.37,195.15 493.80,194.90 C496.23,194.65 498.67,194.40 501.10,194.30 C503.53,194.20 505.97,194.37 508.40,194.30 C510.83,194.23 513.75,193.85 515.70,193.90 C517.65,193.95 519.13,194.00 520.10,194.60 C521.07,195.20 521.02,197.30 521.50,197.50 C521.98,197.70 522.27,196.28 523.00,195.80 C523.73,195.32 524.93,195.00 525.90,194.60 C526.87,194.20 527.58,193.70 528.80,193.40 C530.02,193.10 531.73,192.97 533.20,192.80 C534.67,192.63 536.38,192.35 537.60,192.40 C538.82,192.45 539.53,192.85 540.50,193.10 C541.47,193.35 542.42,193.70 543.40,193.90 C544.38,194.10 545.35,194.10 546.40,194.30 C547.45,194.50 548.38,195.08 549.70,195.10 C551.02,195.12 552.37,194.67 554.30,194.40 C556.23,194.13 558.97,193.50 561.30,193.50 C563.63,193.50 566.37,193.97 568.30,194.40 C570.23,194.83 571.45,195.50 572.90,196.10 C574.35,196.70 575.98,197.35 577.00,198.00 C578.02,198.65 578.43,199.02 579.00,200.00 C579.57,200.98 579.97,201.58 580.40,203.90 C580.83,206.22 581.25,211.90 581.60,213.90 C581.95,215.90 582.18,216.57 582.50,215.90 C582.82,215.23 583.10,211.23 583.50,209.90 C583.90,208.57 584.50,208.07 584.90,207.90 C585.30,207.73 585.47,209.30 585.90,208.90 C586.33,208.50 587.00,206.17 587.50,205.50 C588.00,204.83 588.50,205.23 588.90,204.90 C589.30,204.57 589.47,204.15 589.90,203.50 C590.33,202.85 590.90,201.75 591.50,201.00 C592.10,200.25 593.03,199.50 593.50,199.00 C593.97,198.50 593.97,197.67 594.30,198.00 C594.63,198.33 595.17,198.68 595.50,201.00 C595.83,203.32 596.07,209.58 596.30,211.90 C596.53,214.22 596.63,215.23 596.90,214.90 C597.17,214.57 597.57,211.07 597.90,209.90 C598.23,208.73 598.57,207.73 598.90,207.90 C599.23,208.07 599.57,209.23 599.90,210.90 C600.23,212.57 600.57,214.75 600.90,217.90 C601.23,221.05 601.57,225.98 601.90,229.80 C602.23,233.62 602.57,238.63 602.90,240.80 C603.23,242.97 603.63,243.97 603.90,242.80 C604.17,241.63 604.23,237.62 604.50,233.80 C604.77,229.98 605.10,223.88 605.50,219.90 C605.90,215.92 606.35,212.40 606.90,209.90 C607.45,207.40 607.98,206.38 608.80,204.90 C609.62,203.42 610.77,201.98 611.80,201.00 C612.83,200.02 614.13,199.65 615.00,199.00 C615.87,198.35 616.08,197.68 617.00,197.10 C617.92,196.52 619.33,195.58 620.50,195.50 C621.67,195.42 623.23,196.02 624.00,196.60 C624.77,197.18 624.65,199.07 625.10,199.00 C625.55,198.93 625.73,196.67 626.70,196.20 C627.67,195.73 629.42,195.93 630.90,196.20 C632.38,196.47 634.08,197.00 635.60,197.80 C637.12,198.60 638.77,200.30 640.00,201.00 C641.23,201.70 642.00,201.50 643.00,202.00 C644.00,202.50 644.83,203.33 646.00,204.00 C647.17,204.67 648.85,205.33 650.00,206.00 C651.15,206.67 652.25,207.18 652.90,208.00 C653.55,208.82 653.63,208.42 653.90,210.90 C654.17,213.38 654.27,221.57 654.50,222.90 C654.73,224.23 655.00,220.40 655.30,218.90 C655.60,217.40 655.93,214.57 656.30,213.90 C656.67,213.23 657.17,212.07 657.50,214.90 C657.83,217.73 658.10,225.58 658.30,230.90 C658.50,236.22 658.57,244.22 658.70,246.80 C658.83,249.38 658.97,250.72 659.10,246.40 C659.23,242.08 659.30,225.82 659.50,220.90 C659.70,215.98 659.90,217.73 660.30,216.90 C660.70,216.07 661.37,215.83 661.90,215.90 C662.43,215.97 663.00,215.80 663.50,217.30 C664.00,218.80 664.50,223.03 664.90,224.90 C665.30,226.77 665.57,228.67 665.90,228.50 C666.23,228.33 666.40,225.00 666.90,223.90 C667.40,222.80 668.23,222.57 668.90,221.90 C669.57,221.23 670.33,220.07 670.90,219.90 C671.47,219.73 671.80,220.80 672.30,220.90 C672.80,221.00 673.47,220.00 673.90,220.50 C674.33,221.00 674.73,223.33 674.90,223.90" fill="none" stroke="#000" stroke-width="2.3" stroke-linejoin="round" stroke-linecap="round"/>
<polyline points="388.0,194.5 388.7,194.2 389.4,194.8 390.1,194.0 390.8,194.6 391.5,194.4 392.2,194.1 392.9,194.9 393.6,194.3 394.3,195.0 395.0,194.7 395.7,194.9 396.4,195.5 397.1,196.2 397.8,195.4 398.5,195.7 399.2,196.0 399.9,196.3 400.6,195.6 401.3,195.2 402.0,195.7 402.7,194.2 403.4,195.1 404.1,194.1 404.8,194.0 405.5,194.4 406.2,195.6 406.9,198.1 407.6,196.5 408.3,196.3 409.0,196.2 409.7,195.6 410.4,195.6 411.1,194.7 411.8,194.6 412.5,195.0 413.2,195.9 413.9,195.9 414.6,196.1 415.3,196.9 416.0,197.1 416.7,197.3 417.4,198.4 418.1,198.6 418.8,198.2 419.5,198.9 420.2,199.0 420.9,199.8 421.6,199.8 422.3,199.5 423.0,200.8 423.7,199.8 424.4,200.5 425.1,201.2 425.8,200.5 426.5,201.2 427.2,200.8 427.9,201.9 428.6,202.3 429.3,202.2 430.0,202.9 430.7,202.3 431.4,203.1 432.1,203.1 432.8,203.2 433.5,203.2 434.2,203.9 434.9,204.1 435.6,203.6 436.3,203.9 437.0,203.2 437.7,204.1 438.4,204.1 439.1,204.6 439.8,204.4" fill="none" stroke="#000" stroke-width="1.2" stroke-linejoin="round"/>
<polyline points="527.0,193.8 527.7,193.6 528.4,193.9 529.1,192.5 529.8,193.2 530.5,192.6 531.2,192.4 531.9,192.2 532.6,193.4 533.3,192.1 534.0,192.3 534.7,192.5 535.4,193.3 536.1,191.8 536.8,192.4 537.5,192.5 538.2,193.2 538.9,193.3 539.6,193.5 540.3,192.7 541.0,193.1 541.7,193.2 542.4,194.3 543.1,194.6 543.8,193.3 544.5,193.5 545.2,193.7 545.9,193.8 546.6,194.3 547.3,194.7 548.0,194.3 548.7,194.0 549.4,194.9 550.1,194.8 550.8,195.1 551.5,195.6 552.2,195.1 552.9,194.6 553.6,194.7 554.3,194.7 555.0,193.5 555.7,194.9 556.4,194.6 557.1,194.7 557.8,194.5 558.5,193.7 559.2,193.6 559.9,193.0 560.6,193.8 561.3,192.7 562.0,192.8 562.7,193.2 563.4,193.2 564.1,193.6 564.8,193.1 565.5,193.1" fill="none" stroke="#000" stroke-width="1.4" stroke-linejoin="round"/>
<polyline points="534.0,192.0 534.7,191.9 535.4,192.3 536.1,191.6 536.8,193.2 537.5,192.6 538.2,191.8 538.9,192.2 539.6,192.6 540.3,192.8 541.0,192.5 541.7,194.1 542.4,194.6 543.1,193.7 543.8,193.9 544.5,193.2 545.2,193.3 545.9,193.9" fill="none" stroke="#000" stroke-width="2.2" stroke-linejoin="round"/>
<polyline points="554.0,194.0 554.7,195.0 555.4,193.6 556.1,193.2 556.8,195.0 557.5,194.0 558.2,193.2 558.9,193.9 559.6,192.8 560.3,193.7 561.0,194.5 561.7,194.3" fill="none" stroke="#000" stroke-width="2.2" stroke-linejoin="round"/>
<rect x="431" y="36" width="9.2" height="159.3" fill="rgb(110,246,246)" fill-opacity="0.57"/>
<rect x="387" y="3" width="288.9" height="254.6" fill="none" stroke="#000" stroke-width="2"/>
<line x1="387.00" y1="257.6" x2="387.00" y2="262.80" stroke="#000" stroke-width="2"/>
<line x1="407.64" y1="257.6" x2="407.64" y2="260.40" stroke="#000" stroke-width="2"/>
<line x1="428.27" y1="257.6" x2="428.27" y2="262.80" stroke="#000" stroke-width="2"/>
<line x1="448.91" y1="257.6" x2="448.91" y2="260.40" stroke="#000" stroke-width="2"/>
<line x1="469.54" y1="257.6" x2="469.54" y2="262.80" stroke="#000" stroke-width="2"/>
<line x1="490.18" y1="257.6" x2="490.18" y2="260.40" stroke="#000" stroke-width="2"/>
<line x1="510.81" y1="257.6" x2="510.81" y2="262.80" stroke="#000" stroke-width="2"/>
<line x1="531.45" y1="257.6" x2="531.45" y2="260.40" stroke="#000" stroke-width="2"/>
<line x1="552.09" y1="257.6" x2="552.09" y2="262.80" stroke="#000" stroke-width="2"/>
<line x1="572.72" y1="257.6" x2="572.72" y2="260.40" stroke="#000" stroke-width="2"/>
<line x1="593.36" y1="257.6" x2="593.36" y2="262.80" stroke="#000" stroke-width="2"/>
<line x1="613.99" y1="257.6" x2="613.99" y2="260.40" stroke="#000" stroke-width="2"/>
<line x1="634.63" y1="257.6" x2="634.63" y2="262.80" stroke="#000" stroke-width="2"/>
<line x1="655.26" y1="257.6" x2="655.26" y2="260.40" stroke="#000" stroke-width="2"/>
<line x1="675.90" y1="257.6" x2="675.90" y2="262.80" stroke="#000" stroke-width="2"/>
<text transform="translate(380.4,132.35) rotate(-90)" font-family="Liberation Serif, serif" font-weight="bold" font-size="12.8" text-anchor="middle" textLength="113.5" lengthAdjust="spacingAndGlyphs">Transmittance (%)</text>
<rect x="536.3" y="210.8" width="28.4" height="18.4" fill="#fff" stroke="#9a9a9a" stroke-width="0.9"/>
<rect x="557.4" y="236.5" width="25.2" height="18.8" fill="#fff" stroke="#9a9a9a" stroke-width="0.9"/>
<rect x="616.6" y="237.2" width="28.4" height="18.4" fill="#fff" stroke="#9a9a9a" stroke-width="0.9"/>
<line x1="566.5" y1="219.2" x2="577.19" y2="215.81" stroke="#222" stroke-width="0.8"/>
<polygon points="581.00,214.60 577.73,217.53 576.64,214.09" fill="#111"/>
<line x1="586.0" y1="245.8" x2="598.05" y2="241.38" stroke="#222" stroke-width="0.8"/>
<polygon points="601.80,240.00 598.67,243.07 597.42,239.69" fill="#111"/>
<line x1="646.3" y1="248.7" x2="654.06" y2="247.37" stroke="#222" stroke-width="0.8"/>
<polygon points="658.00,246.70 654.36,249.15 653.75,245.60" fill="#111"/>
<text id="lRTG" x="208.65" y="39.3" font-family="Liberation Sans, sans-serif" font-weight="bold" font-size="12.6" textLength="102.83" lengthAdjust="spacingAndGlyphs"><tspan fill="#008a00">RTG</tspan><tspan fill="#000">-MIL-100(Fe)</tspan></text>
<text id="l01" x="199.75" y="77.6" font-family="Liberation Sans, sans-serif" font-weight="bold" font-size="12.6" textLength="130.19" lengthAdjust="spacingAndGlyphs"><tspan fill="#ff00ff">0.1M KI</tspan><tspan fill="#000">@MIL-100(Fe)</tspan></text>
<text id="l001" x="195.03" y="124.6" font-family="Liberation Sans, sans-serif" font-weight="bold" font-size="12.6" textLength="135.56" lengthAdjust="spacingAndGlyphs"><tspan fill="#0000ff">0.01M KI</tspan><tspan fill="#000">@MIL-100(Fe)</tspan></text>
<text id="l0001" x="187.33" y="173.1" font-family="Liberation Sans, sans-serif" font-weight="bold" font-size="12.6" textLength="145.56" lengthAdjust="spacingAndGlyphs"><tspan fill="#ff0000">0.001M KI</tspan><tspan fill="#000">@MIL-100(Fe)</tspan></text>
<text id="lMIL" x="223.63" y="232.2" font-family="Liberation Sans, sans-serif" font-weight="bold" font-size="12.6" textLength="72.46" lengthAdjust="spacingAndGlyphs"><tspan fill="#000">MIL-100(Fe)</tspan></text>
<text id="rRTG" x="484.58" y="22.7" font-family="Liberation Sans, sans-serif" font-weight="bold" font-size="11" textLength="87.20" lengthAdjust="spacingAndGlyphs"><tspan fill="#008a00">RTG</tspan><tspan fill="#000">-MIL-100(Fe)</tspan></text>
<text id="r01" x="472.83" y="54.1" font-family="Liberation Sans, sans-serif" font-weight="bold" font-size="10.3" textLength="104.63" lengthAdjust="spacingAndGlyphs"><tspan fill="#ff00ff">0.1M KI</tspan><tspan fill="#000">@MIL-100(Fe)</tspan></text>
<text id="r001" x="466.08" y="100.3" font-family="Liberation Sans, sans-serif" font-weight="bold" font-size="10.3" textLength="110.40" lengthAdjust="spacingAndGlyphs"><tspan fill="#0000ff">0.01M KI</tspan><tspan fill="#000">@MIL-100(Fe)</tspan></text>
<text id="r0001" x="457.52" y="152.2" font-family="Liberation Sans, sans-serif" font-weight="bold" font-size="10.3" textLength="116.71" lengthAdjust="spacingAndGlyphs"><tspan fill="#ff0000">0.001M KI</tspan><tspan fill="#000">@MIL-100(Fe)</tspan></text>
<text id="rMIL" x="498.30" y="187.3" font-family="Liberation Sans, sans-serif" font-weight="bold" font-size="11.9" textLength="67.98" lengthAdjust="spacingAndGlyphs"><tspan fill="#000">MIL-100(Fe)</tspan></text>
<text id="OH" x="420.44" y="86.4" font-family="Liberation Sans, sans-serif" font-weight="bold" font-size="13.8" textLength="25.47" lengthAdjust="spacingAndGlyphs">O&#8211;H</text>
<text id="CdO" x="537.20" y="225.0" font-family="Liberation Sans, sans-serif" font-weight="bold" font-size="12.3" textLength="26.04" lengthAdjust="spacingAndGlyphs">C=O</text>
<text id="CsO" x="558.17" y="250.4" font-family="Liberation Sans, sans-serif" font-weight="bold" font-size="12.3" textLength="23.56" lengthAdjust="spacingAndGlyphs">C-O</text>
<text id="FeO" x="618.41" y="250.9" font-family="Liberation Sans, sans-serif" font-weight="bold" font-size="11.3" textLength="25.55" lengthAdjust="spacingAndGlyphs">Fe-O</text>
<text id="a" x="1.56" y="19.0" font-family="Liberation Sans, sans-serif" font-weight="bold" font-size="22" textLength="25.27" lengthAdjust="spacingAndGlyphs">(a)</text>
<text id="b" x="359.61" y="19.0" font-family="Liberation Sans, sans-serif" font-weight="bold" font-size="22" textLength="25.82" lengthAdjust="spacingAndGlyphs">(b)</text>
<text id="x2t" x="172.14" y="291.6" font-family="Liberation Serif, serif" font-weight="bold" font-size="11.6" textLength="56.14" lengthAdjust="spacingAndGlyphs">2θ (degree)</text>
<text id="xwn" x="479.10" y="296.0" font-family="Liberation Serif, serif" font-weight="bold" font-size="12.5" textLength="105.34" lengthAdjust="spacingAndGlyphs">Wavenumber (cm<tspan font-size="8.5" dy="-5">-1</tspan><tspan dy="5">)</tspan></text>
<text id="rt4000" x="376.93" y="275.0" font-family="Liberation Serif, serif" font-weight="bold" font-size="10.8" textLength="20.22" lengthAdjust="spacingAndGlyphs">4000</text>
<text id="rt3500" x="418.19" y="275.0" font-family="Liberation Serif, serif" font-weight="bold" font-size="10.8" textLength="20.32" lengthAdjust="spacingAndGlyphs">3500</text>
<text id="rt3000" x="459.46" y="275.0" font-family="Liberation Serif, serif" font-weight="bold" font-size="10.8" textLength="20.19" lengthAdjust="spacingAndGlyphs">3000</text>
<text id="rt2500" x="500.68" y="275.0" font-family="Liberation Serif, serif" font-weight="bold" font-size="10.8" textLength="20.11" lengthAdjust="spacingAndGlyphs">2500</text>
<text id="rt2000" x="541.92" y="275.0" font-family="Liberation Serif, serif" font-weight="bold" font-size="10.8" textLength="20.23" lengthAdjust="spacingAndGlyphs">2000</text>
<text id="rt1500" x="582.21" y="275.0" font-family="Liberation Serif, serif" font-weight="bold" font-size="10.8" textLength="21.34" lengthAdjust="spacingAndGlyphs">1500</text>
<text id="rt1000" x="623.76" y="275.0" font-family="Liberation Serif, serif" font-weight="bold" font-size="10.8" textLength="21.09" lengthAdjust="spacingAndGlyphs">1000</text>
<text id="rt500" x="668.14" y="275.0" font-family="Liberation Serif, serif" font-weight="bold" font-size="10.8" textLength="15.43" lengthAdjust="spacingAndGlyphs">500</text>
</svg></body></html>
